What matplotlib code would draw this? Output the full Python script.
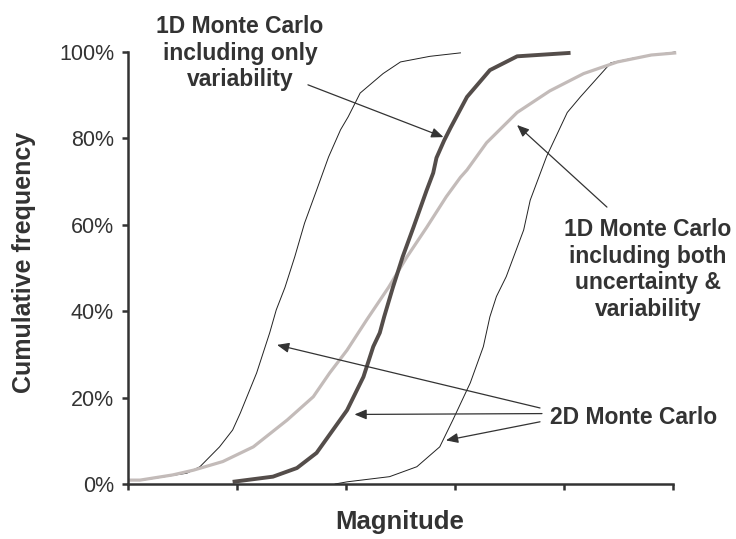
import numpy as np
import matplotlib
matplotlib.use('Agg')
from matplotlib import pyplot as plt

# curves: x in axis units (0..5), y in percent
thin_left_x = [0.11, 0.54, 0.66, 0.84, 0.96, 1.03, 1.18, 1.30, 1.36, 1.44, 1.53, 1.62, 1.73,
               1.84, 1.95, 2.02, 2.13, 2.34, 2.50, 2.77, 3.05]
thin_left_y = [0.8, 2.5, 4.0, 8.6, 12.5, 16.4, 25.7, 35.0, 40.3, 45.5, 52.6, 60.4, 68.0,
               75.7, 82.0, 85.0, 90.5, 95.0, 97.7, 99.0, 99.8]

thick_x = [0.96, 1.33, 1.55, 1.73, 1.88, 2.01, 2.16, 2.25, 2.31, 2.35, 2.43, 2.52, 2.62, 2.74,
           2.80, 2.83, 2.90, 2.96, 3.11, 3.32, 3.57, 4.06]
thick_y = [0.5, 1.7, 3.7, 7.2, 12.5, 17.1, 24.8, 31.8, 35.0, 38.7, 45.5, 52.6, 59.5, 68.0,
           72.0, 75.5, 79.5, 82.5, 89.6, 95.8, 99.0, 99.8]

grey_x = [0.0, 0.11, 0.41, 0.60, 0.87, 1.15, 1.46, 1.70, 1.85, 2.01, 2.19, 2.39, 2.56, 2.74,
          2.92, 3.05, 3.11, 3.29, 3.57, 3.87, 4.18, 4.49, 4.80, 5.03]
grey_y = [0.9, 0.9, 2.1, 3.2, 5.2, 8.6, 14.8, 20.2, 25.7, 31.0, 38.0, 45.5, 52.6, 59.4,
          66.5, 71.0, 72.7, 79.0, 86.0, 91.0, 95.0, 97.7, 99.3, 99.8]

thin_right_x = [1.90, 2.01, 2.40, 2.65, 2.86, 2.98, 3.14, 3.26, 3.32, 3.38, 3.47, 3.63, 3.69,
                3.84, 4.03, 4.15, 4.43, 4.64, 4.88, 5.02]
thin_right_y = [0.0, 0.5, 1.7, 4.0, 8.6, 14.8, 23.4, 31.8, 38.7, 43.4, 48.0, 58.8, 65.7,
                75.8, 86.0, 89.6, 97.5, 98.6, 99.5, 100.0]

y_ticks = [0, 20, 40, 60, 80, 100]
y_tick_labels = ['0%', '20%', '40%', '60%', '80%', '100%']

plt.rcParams['font.family'] = ['Liberation Sans', 'DejaVu Sans']
dark = '#333333'

fig = plt.figure(figsize=(7.36, 5.39), dpi=100)
ax = fig.add_axes([128 / 736, 55 / 539, 545 / 736, 432 / 539])

ax.plot(thin_left_x, np.array(thin_left_y) / 100, color='#222222', lw=0.7, clip_on=False)
ax.plot(thin_right_x, np.array(thin_right_y) / 100, color='#222222', lw=0.7, clip_on=False)
ax.plot(grey_x, np.array(grey_y) / 100, color='#c3bbb9', lw=2.3, clip_on=False,
        solid_capstyle='butt')
ax.plot(thick_x, np.array(thick_y) / 100, color='#544d4a', lw=2.8, clip_on=False,
        solid_capstyle='butt')

ax.set_xlim(0, 5)
ax.set_ylim(0, 1)
ax.set_xticks(range(6))
ax.set_xticklabels([])
ax.set_yticks(np.array(y_ticks) / 100)
ax.set_yticklabels(y_tick_labels, fontsize=15.5, color=dark)
ax.tick_params(direction='out', length=4, width=1.8, color=dark, pad=6)
for side in ['top', 'right']:
    ax.spines[side].set_visible(False)
for side in ['left', 'bottom']:
    ax.spines[side].set_linewidth(1.8)
    ax.spines[side].set_color(dark)

fig.text(24 / 736, 1 - 262 / 539, 'Cumulative frequency', rotation=90, ha='center',
         va='center', fontsize=18, fontweight='bold', color=dark)
fig.text(400 / 736, 1 - 522 / 539, 'Magnitude', ha='center', va='center',
         fontsize=18.5, fontweight='bold', color=dark)

txt = dict(fontsize=16.5, fontweight='bold', color=dark, ha='center', va='center',
           linespacing=1.2)
ax.text(1.028, 0.997, '1D Monte Carlo\nincluding only\nvariability', clip_on=False, **txt)
ax.text(4.771, 0.4965, '1D Monte Carlo\nincluding both\nuncertainty &\nvariability',
        clip_on=False, **txt)
ax.text(4.642, 0.155, '2D Monte Carlo', clip_on=False, **txt)

arrow = dict(arrowstyle='-|>,head_length=0.6,head_width=0.25', color=dark, lw=0.9,
             mutation_scale=12, shrinkA=0, shrinkB=0)
ax.annotate('', xy=(2.894, 0.803), xytext=(1.651, 0.924), arrowprops=arrow)
ax.annotate('', xy=(3.569, 0.831), xytext=(4.394, 0.641), arrowprops=arrow)
ax.annotate('', xy=(1.367, 0.322), xytext=(3.78, 0.176), arrowprops=arrow)
ax.annotate('', xy=(2.078, 0.161), xytext=(3.798, 0.163), arrowprops=arrow)
ax.annotate('', xy=(2.917, 0.101), xytext=(3.78, 0.144), arrowprops=arrow)

fig.savefig('out.png', dpi=100)
